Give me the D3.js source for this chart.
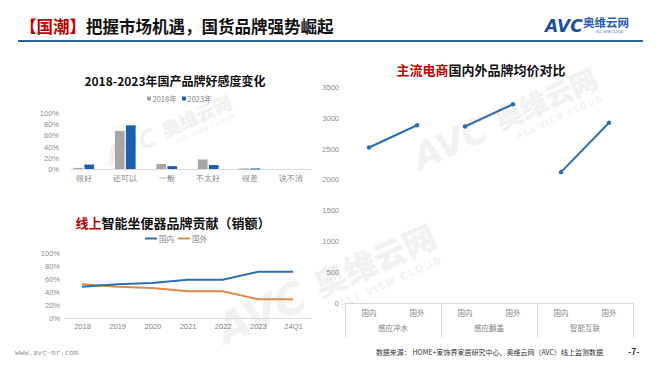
<!DOCTYPE html>
<html>
<head>
<meta charset="utf-8">
<script src="https://cdn.jsdelivr.net/npm/d3@7"></script>
<style>
  body { margin: 0; background: #fff; }
  svg { display: block; font-family: "Noto Sans CJK SC", "Noto Sans", sans-serif; }
</style>
</head>
<body>
<svg id="chart" width="660" height="372"></svg>
<script>
// ---- data ----
var favorCats = ['很好', '还可以', '一般', '不太好', '很差', '说不清'];
var favorYears = ['2018年', '2023年'];
var favor2018 = [0.02, 0.68, 0.09, 0.17, 0.01, 0];
var favor2023 = [0.08, 0.78, 0.05, 0.07, 0.01, 0];

var shareYears = ['2018', '2019', '2020', '2021', '2022', '2023', '24Q1'];
var shareDomestic = [0.48, 0.52, 0.54, 0.59, 0.59, 0.71, 0.71];
var shareForeign = [0.52, 0.48, 0.46, 0.41, 0.41, 0.29, 0.29];

var priceGroups = ['感应冲水', '感应翻盖', '智能互联'];
var priceOrigins = ['国内', '国外'];
var priceDomestic = [2520, 2860, 2120];
var priceForeign = [2880, 3220, 2920];

var GREY = '#a6a6a6', BLUE = '#1a5fb4', LINE_BLUE = '#2e6db0', ORANGE = '#e08a45';
var RED = '#c00000', AXIS = '#d9d9d9', TICK_TXT = '#8c8c8c';

var svg = d3.select('#chart');

function translate(x, y) {
  return 'translate(' + (x || 0) + ', ' + (y || 0) + ')';
}

// ---- faint watermarks ----
function watermark(x, y, s) {
  var g = svg.append('g')
    .attr('transform', translate(x, y) + ' rotate(-24) scale(' + s + ')')
    .attr('fill', '#f1f1f1');
  g.append('text').attr('x', 0).attr('y', 0)
    .attr('font-size', 44).attr('font-weight', 900).attr('font-style', 'italic')
    .attr('font-family', 'DejaVu Sans').text('AVC');
  g.append('text').attr('x', 112).attr('y', -4)
    .attr('font-size', 34).attr('font-weight', 900).text('奥维云网');
  g.append('text').attr('x', 128).attr('y', 14)
    .attr('font-size', 11).attr('font-weight', 700).attr('letter-spacing', 2)
    .text('ALL VIEW CLOUD');
}
watermark(225, 345, 0.95);
watermark(420, 170, 0.8);
watermark(110, 165, 0.55);

// ---- header ----
var head = svg.append('text').attr('x', 20).attr('y', 33)
  .attr('font-size', 16.5).attr('font-weight', 700);
head.append('tspan').attr('fill', RED).text('【国潮】');
head.append('tspan').attr('fill', '#111').text('把握市场机遇，国货品牌强势崛起');

svg.append('line').attr('x1', 18).attr('x2', 643).attr('y1', 41).attr('y2', 41)
  .attr('stroke', '#2b6596').attr('stroke-width', 2);

// logo
svg.append('text').attr('x', 545).attr('y', 32)
  .attr('font-size', 17).attr('font-weight', 900).attr('font-style', 'italic')
  .attr('font-family', 'DejaVu Sans').attr('fill', '#1d4f9e').text('AVC');
svg.append('text').attr('x', 583).attr('y', 27)
  .attr('font-size', 11.5).attr('font-weight', 700).attr('fill', '#2a5fb0').text('奥维云网');
svg.append('text').attr('x', 596).attr('y', 33)
  .attr('font-size', 3.5).attr('fill', '#2a5fb0').text('ALL VIEW CLOUD');

// ---- chart 1: grouped bars ----
(function() {
  var x = d3.scaleBand().domain(favorCats).range([63, 312]).paddingInner(0.5).paddingOuter(0.25);
  var x1 = d3.scaleBand().domain(favorYears).range([0, x.bandwidth()]).paddingInner(0.12);
  var y = d3.scaleLinear().domain([0, 1]).range([169, 113]);

  svg.append('text').attr('x', 175).attr('y', 86).attr('text-anchor', 'middle')
    .attr('font-size', 12).attr('font-weight', 700).attr('fill', '#111')
    .text('2018-2023年国产品牌好感度变化');

  var legend = svg.append('g').attr('font-size', 7.5).attr('fill', '#7f7f7f');
  [[147, GREY], [182, BLUE]].forEach(function(d, i) {
    legend.append('rect').attr('x', d[0]).attr('y', 96.5).attr('width', 4).attr('height', 4).attr('fill', d[1]);
    legend.append('text').attr('x', d[0] + 5.5).attr('y', 101.5).text(favorYears[i]);
  });

  var yAxis = svg.append('g').attr('transform', translate(62, 0))
    .call(d3.axisLeft(y).tickValues([0, 0.2, 0.4, 0.6, 0.8, 1]).tickFormat(d3.format('.0%')).tickSize(0).tickPadding(3));
  yAxis.select('.domain').remove();
  yAxis.selectAll('text').attr('fill', TICK_TXT).attr('font-size', 7.5).attr('font-family', 'Liberation Sans');

  var xAxis = svg.append('g').attr('transform', translate(0, 169))
    .call(d3.axisBottom(x).tickSize(0).tickPadding(6));
  xAxis.select('.domain').attr('stroke', AXIS).attr('d', 'M70,0.5H312');
  xAxis.selectAll('text').attr('fill', '#7f7f7f').attr('font-size', 8);

  var series = [favor2018, favor2023];
  var g = svg.append('g');
  favorCats.forEach(function(cat, ci) {
    favorYears.forEach(function(yr, si) {
      var v = series[si][ci];
      if (!v) return;
      g.append('rect')
        .attr('x', x(cat) + x1(yr))
        .attr('y', y(v))
        .attr('width', x1.bandwidth())
        .attr('height', Math.max(1, y(0) - y(v)))
        .attr('fill', si ? BLUE : GREY);
    });
  });
})();

// ---- chart 2: share lines ----
(function() {
  var x = d3.scalePoint().domain(shareYears).range([82, 293]);
  var y = d3.scaleLinear().domain([0, 1]).range([318, 253]);

  var title = svg.append('text').attr('x', 173).attr('y', 228).attr('text-anchor', 'middle')
    .attr('font-size', 13).attr('font-weight', 700);
  title.append('tspan').attr('fill', RED).text('线上');
  title.append('tspan').attr('fill', '#111').text('智能坐便器品牌贡献（销额）');

  var legend = svg.append('g').attr('font-size', 7.5).attr('fill', '#7f7f7f');
  [[145, LINE_BLUE, '国内'], [178, ORANGE, '国外']].forEach(function(d) {
    legend.append('line').attr('x1', d[0]).attr('x2', d[0] + 12).attr('y1', 238.5).attr('y2', 238.5)
      .attr('stroke', d[1]).attr('stroke-width', 2);
    legend.append('text').attr('x', d[0] + 14).attr('y', 241.5).text(d[2]);
  });

  var yAxis = svg.append('g').attr('transform', translate(60, 0))
    .call(d3.axisLeft(y).tickValues([0, 0.2, 0.4, 0.6, 0.8, 1]).tickFormat(d3.format('.0%')).tickSize(0).tickPadding(0));
  yAxis.select('.domain').remove();
  yAxis.selectAll('text').attr('fill', TICK_TXT).attr('font-size', 7.5).attr('font-family', 'Liberation Sans');

  var xAxis = svg.append('g').attr('transform', translate(0, 318))
    .call(d3.axisBottom(x).tickSize(0).tickPadding(6));
  xAxis.select('.domain').attr('stroke', AXIS).attr('d', 'M64,0.5H312');
  xAxis.selectAll('text').attr('fill', '#7f7f7f').attr('font-size', 7.5).attr('font-family', 'Liberation Sans');

  var line = d3.line()
    .x(function(d, i) { return x(shareYears[i]); })
    .y(function(d) { return y(d); });

  [[shareForeign, ORANGE], [shareDomestic, LINE_BLUE]].forEach(function(s) {
    svg.append('path').datum(s[0]).attr('d', line)
      .attr('fill', 'none').attr('stroke', s[1]).attr('stroke-width', 2);
  });
})();

// ---- chart 3: average price ----
(function() {
  var keys = [];
  priceGroups.forEach(function(g) {
    priceOrigins.forEach(function(o) { keys.push(g + '|' + o); });
  });
  var x = d3.scaleBand().domain(keys).range([345, 633]);
  var xg = d3.scaleBand().domain(priceGroups).range([345, 633]);
  var y = d3.scaleLinear().domain([0, 3500]).range([303, 87]);
  var cx = function(k) { return x(k) + x.bandwidth() / 2; };

  var title = svg.append('text').attr('x', 481).attr('y', 75).attr('text-anchor', 'middle')
    .attr('font-size', 13).attr('font-weight', 700);
  title.append('tspan').attr('fill', RED).text('主流电商');
  title.append('tspan').attr('fill', '#111').text('国内外品牌均价对比');

  var yAxis = svg.append('g').attr('transform', translate(339, 0))
    .call(d3.axisLeft(y).tickValues(d3.range(0, 3501, 500)).tickFormat(d3.format('d')).tickSize(0).tickPadding(0));
  yAxis.select('.domain').remove();
  yAxis.selectAll('text').attr('fill', TICK_TXT).attr('font-size', 7.5).attr('font-family', 'Liberation Sans');

  var ax = svg.append('g').attr('stroke', AXIS).attr('fill', 'none');
  ax.append('line').attr('x1', 345).attr('x2', 633).attr('y1', 303.5).attr('y2', 303.5);
  priceGroups.concat([null]).forEach(function(g) {
    var xx = g ? xg(g) : xg.range()[1];
    ax.append('line').attr('x1', xx + 0.5).attr('x2', xx + 0.5).attr('y1', 303).attr('y2', 338);
  });

  var lbl = svg.append('g').attr('font-size', 7.5).attr('fill', '#7f7f7f').attr('text-anchor', 'middle');
  keys.forEach(function(k) {
    lbl.append('text').attr('x', cx(k)).attr('y', 316).text(k.split('|')[1]);
  });
  priceGroups.forEach(function(g) {
    lbl.append('text').attr('x', xg(g) + xg.bandwidth() / 2).attr('y', 331).text(g);
  });

  var line = d3.line().x(function(d) { return d[0]; }).y(function(d) { return d[1]; });
  priceGroups.forEach(function(g, i) {
    var pts = [
      [cx(g + '|国内'), y(priceDomestic[i])],
      [cx(g + '|国外'), y(priceForeign[i])]
    ];
    svg.append('path').datum(pts).attr('d', line)
      .attr('fill', 'none').attr('stroke', LINE_BLUE).attr('stroke-width', 2);
    pts.forEach(function(p) {
      svg.append('circle').attr('cx', p[0]).attr('cy', p[1]).attr('r', 2.2).attr('fill', LINE_BLUE);
    });
  });
})();

// ---- footer ----
svg.append('text').attr('x', 15).attr('y', 355).attr('font-size', 7.5)
  .attr('fill', '#9a9a9a').attr('font-family', 'DejaVu Sans Mono').text('www.avc-mr.com');
svg.append('text').attr('x', 603).attr('y', 355).attr('text-anchor', 'end').attr('font-size', 7)
  .attr('fill', '#333').text('数据来源： HOME+家饰界家居研究中心、奥维云网（AVC）线上监测数据');
svg.append('text').attr('x', 628).attr('y', 355).attr('font-size', 8.5).attr('font-weight', 700)
  .attr('fill', '#333').text('-7-');
</script>
</body>
</html>
